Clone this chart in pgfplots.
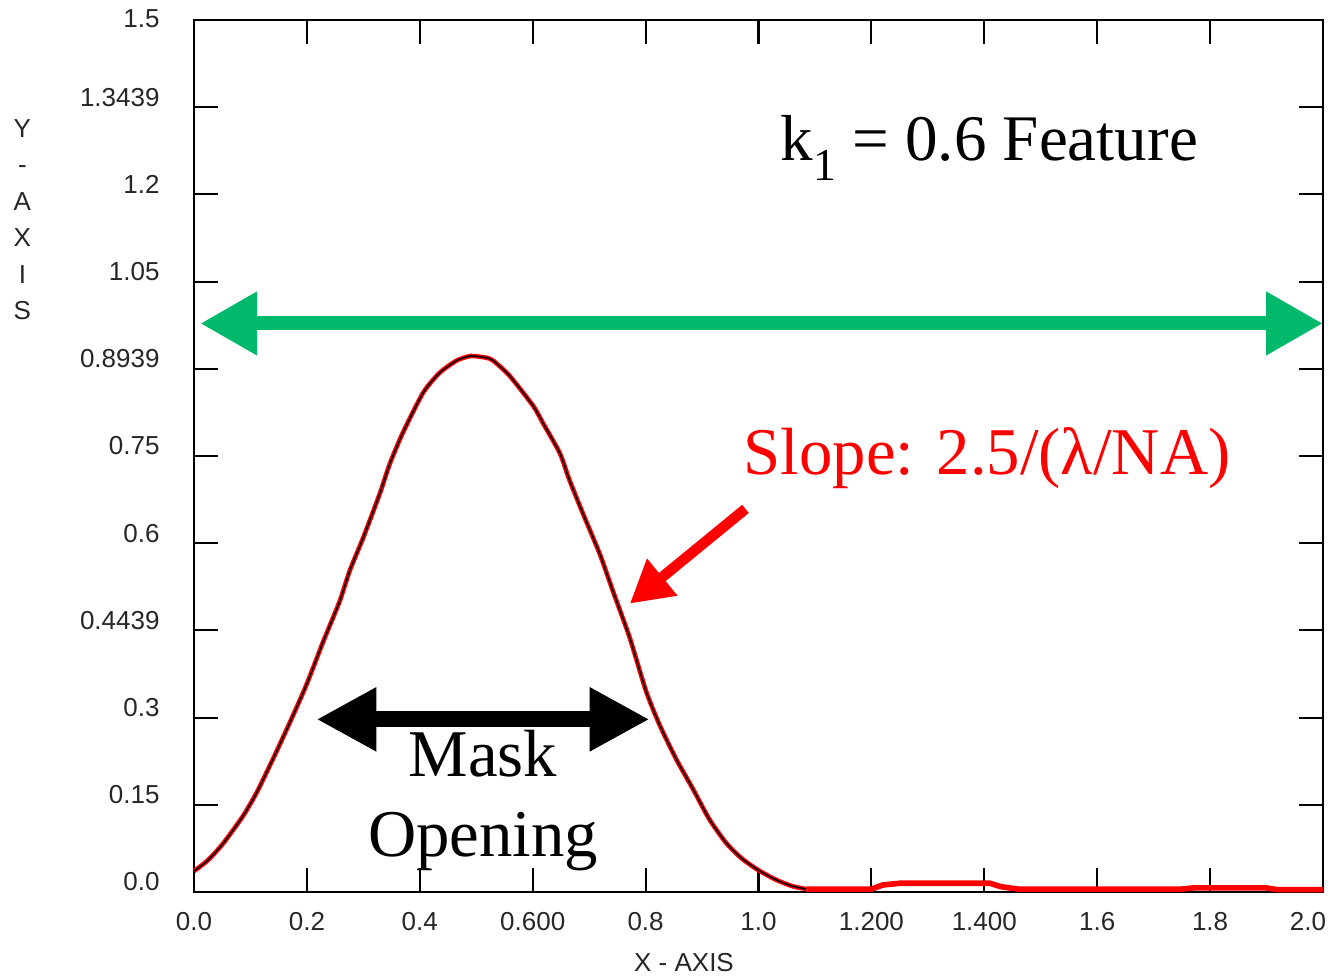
\documentclass[border=0pt]{standalone}
\usepackage{fontspec}
\setmainfont{Liberation Serif}
\setsansfont{Liberation Sans}
\usepackage{pgfplots}
\pgfplotsset{compat=1.18}
\usetikzlibrary{arrows.meta}
\definecolor{arrowgreen}{RGB}{0,185,106}

\begin{document}
\begin{tikzpicture}
\begin{axis}[
    scale only axis,
    width=11.29cm, height=8.72cm,
    xmin=0, xmax=2, ymin=0, ymax=1.5,
    clip=false,
    axis line style={line width=0.7pt},
    major tick length=0.24cm,
    every tick/.style={black, line width=0.6pt},
    tick align=inside,
    xtick={0,0.2,0.4,0.6,0.8,1.0,1.2,1.4,1.6,1.8,2.0},
    xticklabels={0.0,0.2,0.4,0.600,0.8,1.0,1.200,1.400,1.6,1.8,\kern-0.3cm 2.0},
    ytick={0,0.15,0.3,0.45,0.6,0.75,0.9,1.05,1.2,1.35,1.5},
    yticklabels={0.0,0.15,0.3,0.4439,0.6,0.75,0.8939,1.05,1.2,1.3439,\raisebox{-0.09cm}[\height][\depth]{1.5}},
    tick label style={font=\sffamily\fontsize{7.4}{9}\selectfont, black!85},
    xticklabel style={yshift=-0.08cm},
    yticklabel style={anchor=east, xshift=-0.22cm, yshift=0.1cm},
]
% main intensity profile
\addplot[red, line width=1.3pt, smooth, tension=0.4] coordinates {
(0.000,0.036) (0.025,0.055) (0.052,0.084) (0.087,0.131) (0.111,0.171)
(0.140,0.229) (0.170,0.292) (0.199,0.356) (0.229,0.431) (0.258,0.500)
(0.276,0.553) (0.300,0.610) (0.329,0.685) (0.347,0.737) (0.370,0.790)
(0.406,0.859) (0.435,0.893) (0.465,0.914) (0.490,0.922) (0.518,0.919)
(0.530,0.914) (0.559,0.888) (0.601,0.836) (0.618,0.807) (0.648,0.755)
(0.665,0.709) (0.689,0.651) (0.719,0.581) (0.742,0.518) (0.772,0.437)
(0.801,0.345) (0.825,0.287) (0.854,0.229) (0.884,0.177) (0.913,0.125)
(0.943,0.084) (0.970,0.058) (0.999,0.038) (1.031,0.021) (1.060,0.010)
(1.085,0.005)
};
\addplot[black, line width=0.45pt, smooth, tension=0.4] coordinates {
(0.000,0.036) (0.025,0.055) (0.052,0.084) (0.087,0.131) (0.111,0.171)
(0.140,0.229) (0.170,0.292) (0.199,0.356) (0.229,0.431) (0.258,0.500)
(0.276,0.553) (0.300,0.610) (0.329,0.685) (0.347,0.737) (0.370,0.790)
(0.406,0.859) (0.435,0.893) (0.465,0.914) (0.490,0.922) (0.518,0.919)
(0.530,0.914) (0.559,0.888) (0.601,0.836) (0.618,0.807) (0.648,0.755)
(0.665,0.709) (0.689,0.651) (0.719,0.581) (0.742,0.518) (0.772,0.437)
(0.801,0.345) (0.825,0.287) (0.854,0.229) (0.884,0.177) (0.913,0.125)
(0.943,0.084) (0.970,0.058) (0.999,0.038) (1.031,0.021) (1.060,0.010)
(1.085,0.005)
};
% low tail
\addplot[red, line width=1.6pt] coordinates {
(1.085,0.005) (1.200,0.005) (1.220,0.012) (1.250,0.015) (1.410,0.015)
(1.430,0.009) (1.460,0.005) (1.750,0.005) (1.770,0.007) (1.900,0.007)
(1.920,0.004) (2.000,0.004)
};

% annotations
\draw[arrowgreen, line width=4pt, {Triangle[width=0.6cm,length=0.57cm]}-{Triangle[width=0.6cm,length=0.57cm]}]
    (axis cs:0.011,0.978) -- (axis cs:2.0,0.978);
\draw[black, line width=4.6pt, {Triangle[width=0.6cm,length=0.6cm]}-{Triangle[width=0.6cm,length=0.6cm]}]
    (axis cs:0.217,0.297) -- (axis cs:0.807,0.297);
\draw[red, line width=3pt, -{Triangle[width=0.45cm,length=0.42cm]}]
    (axis cs:0.977,0.659) -- (axis cs:0.772,0.496);

\node[anchor=base, font=\fontsize{18.5}{22}\selectfont] at (axis cs:1.409,1.259)
    {k\raisebox{-0.32em}{\fontsize{13}{13}\selectfont 1} = 0.6 Feature};
\node[anchor=base, red, font=\fontsize{19}{23}\selectfont] at (axis cs:1.405,0.718)
    {Slope: 2.5/(λ/NA)};
\node[anchor=base, font=\fontsize{19}{23}\selectfont] at (axis cs:0.512,0.198) {Mask};
\node[anchor=base, font=\fontsize{19}{23}\selectfont] at (axis cs:0.512,0.061) {Opening};

% axis titles
\node[align=center, inner sep=0pt, font=\sffamily\fontsize{7.4}{10.4}\selectfont, black!85]
    at (rel axis cs:-0.152,0.771) {Y\\-\\A\\X\\I\\S};
\node[inner sep=0pt, font=\sffamily\fontsize{7.4}{9}\selectfont, black!85]
    at (rel axis cs:0.434,-0.081) {X - AXIS};
\end{axis}
\pgfresetboundingbox
\path[use as bounding box] ([xshift=-1.94cm,yshift=-0.86cm]current axis.south west)
    rectangle ([xshift=0.13cm,yshift=0.20cm]current axis.north east);
\end{tikzpicture}
\end{document}
